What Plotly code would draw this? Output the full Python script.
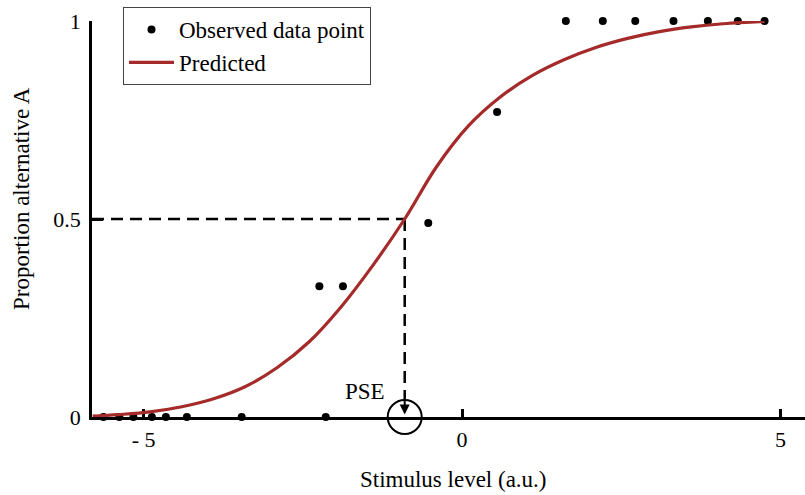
import plotly.graph_objects as go

# Observed proportions of "alternative A" responses at each stimulus level
obs_x = [-5.63, -5.38, -5.16, -4.87, -4.65, -4.32, -3.46, -2.14,
         -2.24, -1.87, -0.53, 0.55,
         1.63, 2.21, 2.72, 3.32, 3.86, 4.33, 4.75]
obs_y = [0, 0, 0, 0, 0, 0, 0, 0,
         0.33, 0.33, 0.49, 0.77,
         1, 1, 1, 1, 1, 1, 1]

# Predicted psychometric curve, sampled along the stimulus axis
curve_x = [-5.8, -5.4, -4.9, -4.4, -3.9, -3.4, -2.9, -2.4, -1.9, -1.4,
           -0.9, -0.4, 0.1, 0.6, 1.1, 1.6, 2.1, 2.6, 3.1, 3.6, 4.1, 4.75]
curve_y = [0.002, 0.006, 0.013, 0.026, 0.046, 0.077, 0.125, 0.19, 0.278,
           0.383, 0.5, 0.632, 0.735, 0.808, 0.862, 0.902, 0.933, 0.956,
           0.973, 0.985, 0.993, 0.999]

# Point of subjective equality
pse_x = -0.90
pse_y = 0.5

x_tickvals = [-5, 0, 5]
x_ticktext = ["- 5", "0", "5"]
y_tickvals = [0, 0.5, 1]
y_ticktext = ["0", "0.5", "1"]

FONT = "Liberation Serif"
CURVE_COLOR = "#a52a2a"

fig = go.Figure()

fig.add_trace(go.Scatter(
    x=obs_x, y=obs_y, mode="markers", name="Observed data point",
    marker=dict(color="black", size=8),
    cliponaxis=False,
))
fig.add_trace(go.Scatter(
    x=curve_x, y=curve_y, mode="lines", name="Predicted",
    line=dict(color=CURVE_COLOR, width=3.2, shape="spline", smoothing=1),
))

dash_line = dict(color="black", width=2.5, dash="12px,7px")
# Horizontal guide from the y axis to the curve at 0.5
fig.add_shape(type="line", xref="x", yref="y", x0=-5.81, x1=pse_x,
              y0=pse_y, y1=pse_y, line=dash_line, layer="below")
# Vertical guide from the curve down to the PSE marker
fig.add_shape(type="line", xref="x", yref="y", x0=pse_x, x1=pse_x,
              y0=pse_y, y1=0.043, line=dash_line, layer="below")
# Circle around the PSE on the stimulus axis (paper y so it is not clipped)
fig.add_shape(type="circle", xref="x", yref="paper",
              xsizemode="pixel", ysizemode="pixel",
              xanchor=pse_x, yanchor=0,
              x0=-17, x1=17, y0=-17, y1=17,
              line=dict(color="black", width=2))
# Arrow pointing down at the PSE
fig.add_annotation(x=pse_x, y=0.006, xref="x", yref="y", text="",
                   showarrow=True, ax=0, ay=-15, arrowhead=2,
                   arrowsize=1, arrowwidth=2, arrowcolor="black")
fig.add_annotation(x=pse_x, y=0, xref="x", yref="y", text="PSE",
                   showarrow=False, xshift=-40, yshift=26,
                   font=dict(family=FONT, size=23, color="black"))

# Axis titles
fig.add_annotation(x=(453 - 92) / 713, y=(417 - 479) / 396, xref="paper", yref="paper",
                   text="Stimulus level (a.u.)", showarrow=False,
                   xanchor="center", yanchor="middle",
                   font=dict(family=FONT, size=23, color="black"))
fig.add_annotation(x=(21 - 92) / 713, y=(417 - 199) / 396, xref="paper", yref="paper",
                   text="Proportion alternative A", textangle=-90,
                   showarrow=False, xanchor="center", yanchor="middle",
                   font=dict(family=FONT, size=23, color="black"))

axis_common = dict(
    showline=True, linecolor="black", linewidth=2.5,
    ticks="inside", tickcolor="black", tickwidth=2.5,
    showgrid=False, zeroline=False, layer="below traces",
    tickfont=dict(family=FONT, size=22, color="black"),
)

fig.update_layout(
    width=805, height=495,
    margin=dict(l=92, r=0, t=21, b=78),
    paper_bgcolor="white", plot_bgcolor="white",
    font=dict(family=FONT, color="black"),
    xaxis=dict(range=[-5.81, 5.385], tickvals=x_tickvals, ticktext=x_ticktext,
               ticklen=8, ticklabelstandoff=1, **axis_common),
    yaxis=dict(range=[0, 1], tickvals=y_tickvals, ticktext=y_ticktext,
               ticklen=11, ticklabelstandoff=4, **axis_common),
    legend=dict(
        x=(123 - 92) / 713, y=(417 - 7) / 396, xanchor="left", yanchor="top",
        bgcolor="white", bordercolor="#444", borderwidth=1,
        font=dict(family=FONT, size=23, color="black"),
        itemwidth=45,
    ),
    showlegend=True,
)

fig.write_html("out.html")
